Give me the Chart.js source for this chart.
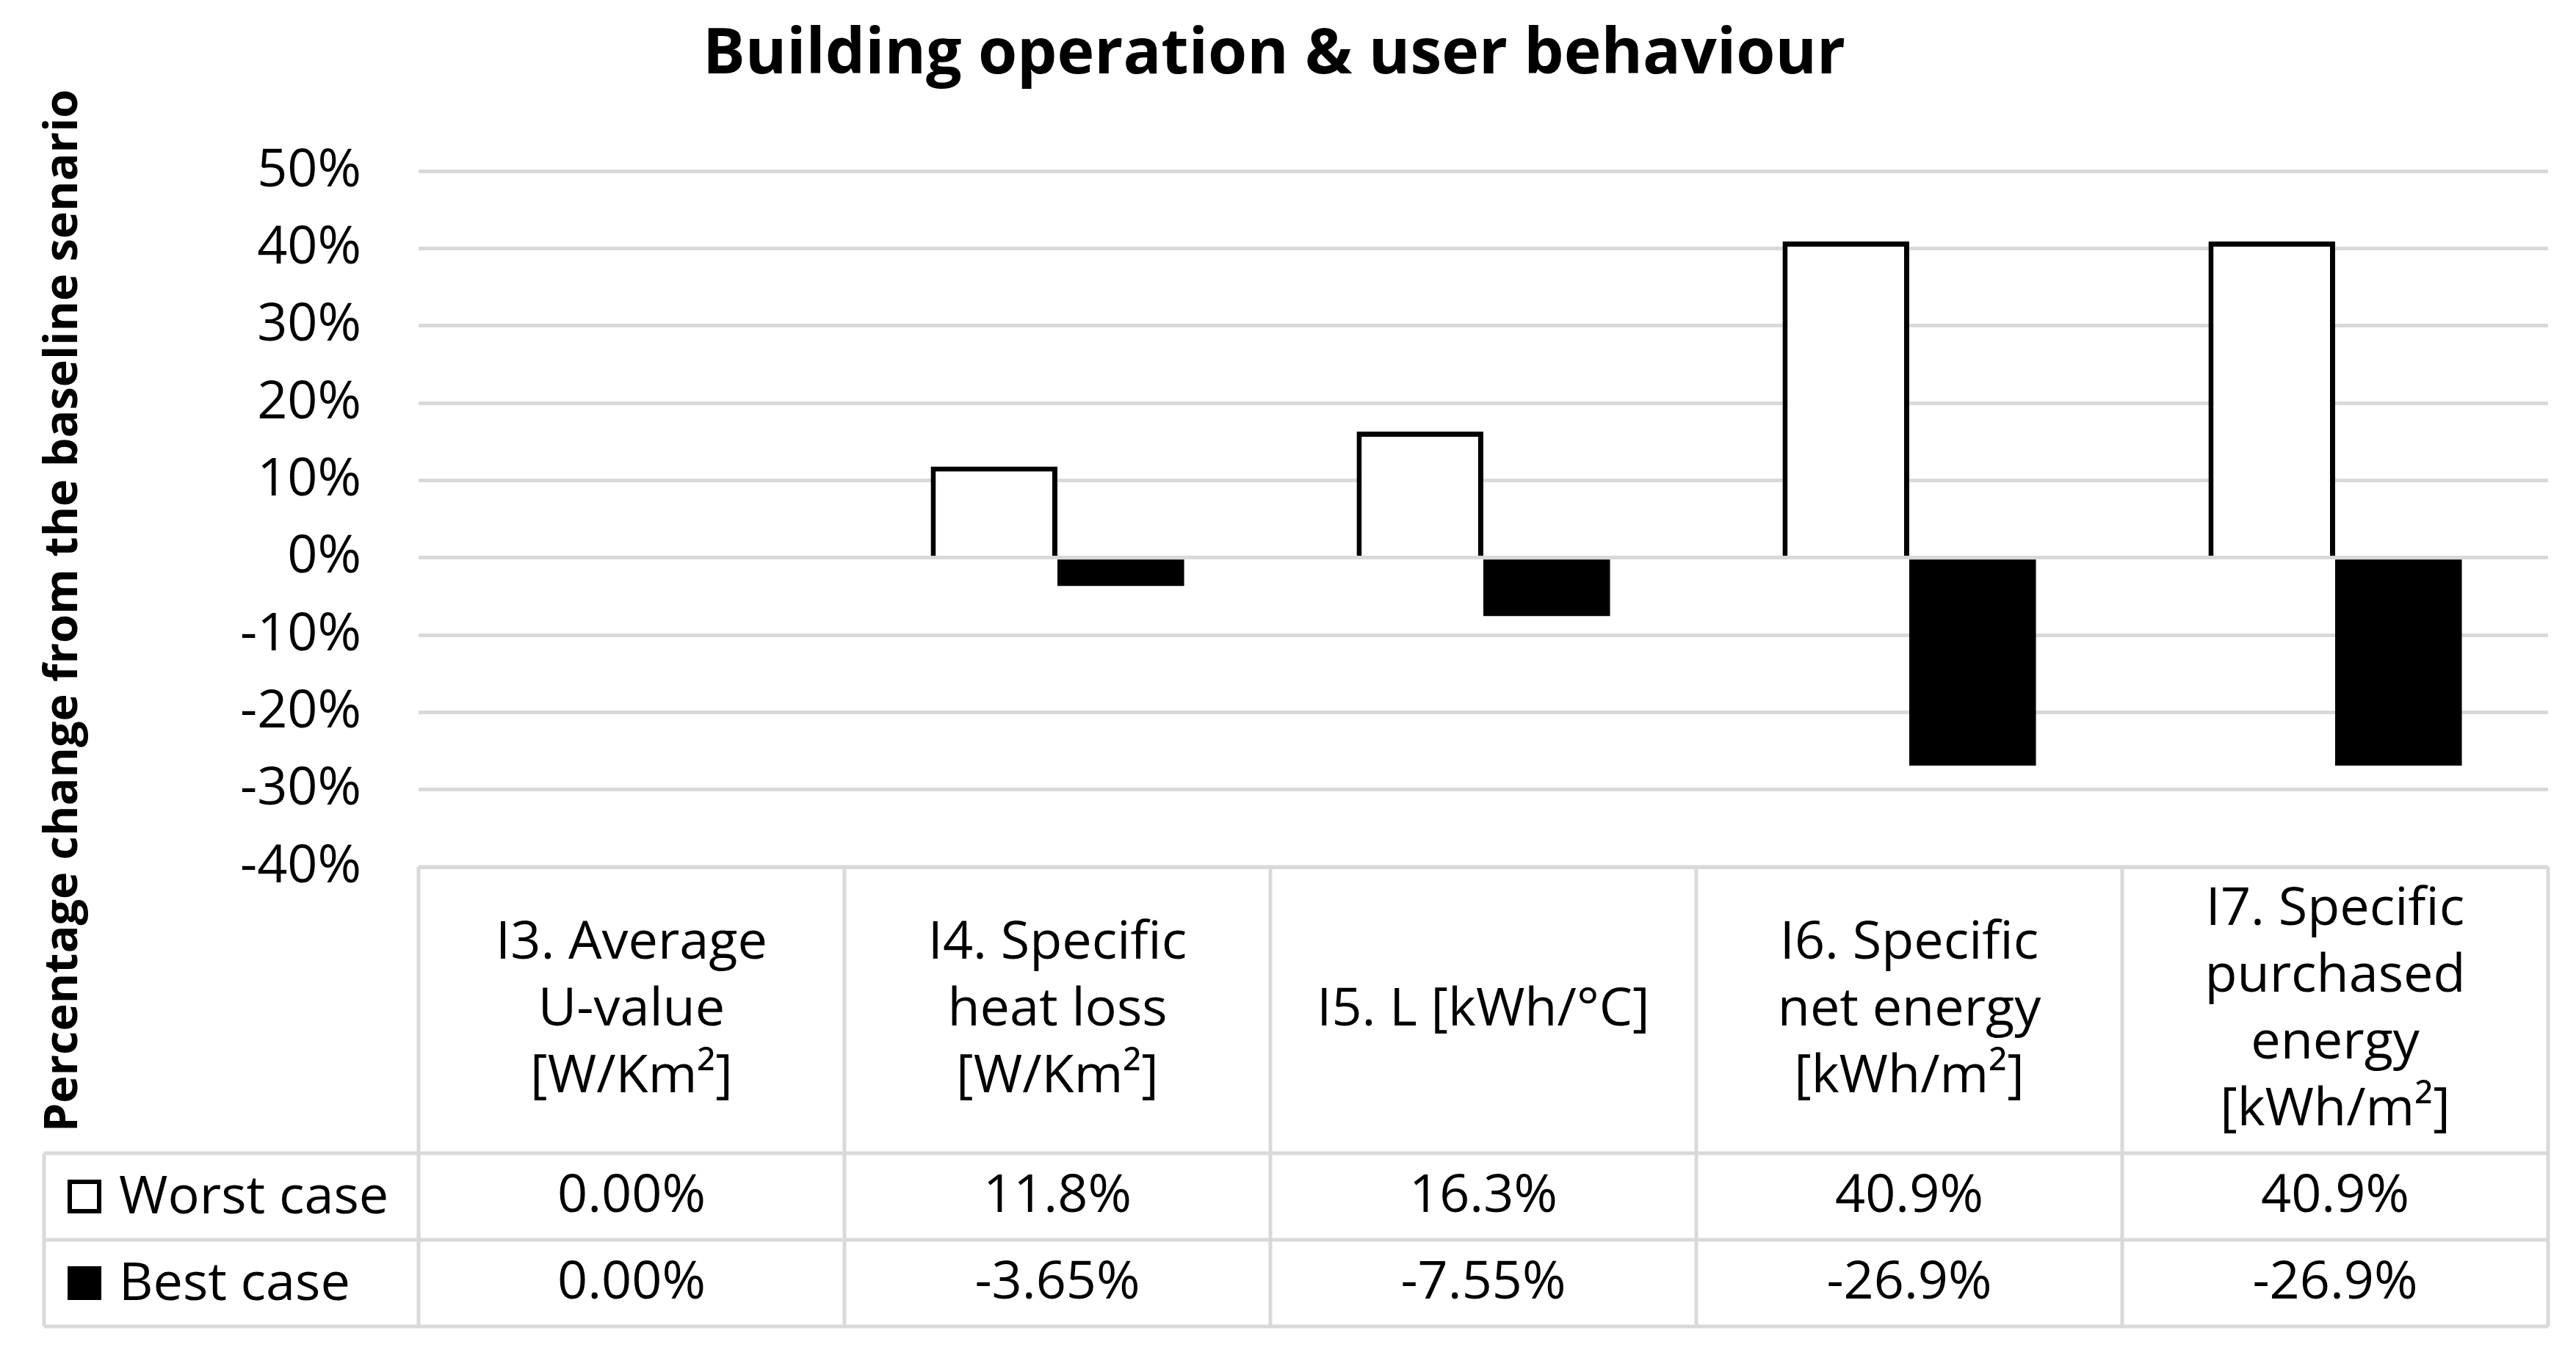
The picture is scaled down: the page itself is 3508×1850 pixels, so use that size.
<!DOCTYPE html>
<html>
<head>
<meta charset="utf-8">
<script src="https://cdn.jsdelivr.net/npm/chart.js@4.4.1/dist/chart.umd.min.js"></script>
<style>
  html, body { margin: 0; padding: 0; background: #fff; }
  .chart-box { position: relative; width: 3508px; height: 1850px; }
</style>
</head>
<body>
<div class="chart-box"><canvas id="chart"></canvas></div>
<script>
const categories = [
  ['I3. Average', 'U-value', '[W/Km²]'],
  ['I4. Specific', 'heat loss', '[W/Km²]'],
  ['I5. L [kWh/°C]'],
  ['I6. Specific', 'net energy', '[kWh/m²]'],
  ['I7. Specific', 'purchased', 'energy', '[kWh/m²]'],
];
const seriesNames = ['Worst case', 'Best case'];
const worstCase = [0, 11.8, 16.3, 40.9, 40.9];
const bestCase = [0, -3.65, -7.55, -26.9, -26.9];
const yTicks = [-40, -30, -20, -10, 0, 10, 20, 30, 40, 50];

const FONT = "'Open Sans', 'Noto Sans', sans-serif";
const GRID = '#d9d9d9';

function pct(v) {
  return v.toPrecision(3) + '%';
}

// data table under the plot, like the excel one
const dataTable = {
  id: 'dataTable',
  afterDraw(chart) {
    const { ctx, chartArea, scales: { x } } = chart;
    const half = (x.getPixelForValue(1) - x.getPixelForValue(0)) / 2;
    const top = chartArea.bottom;
    const headBottom = top + 390;
    const rowH = 118;
    const bottom = headBottom + rowH * 2;
    const tableLeft = 60;

    ctx.save();
    ctx.strokeStyle = GRID;
    ctx.lineWidth = 5;
    ctx.beginPath();
    ctx.moveTo(chartArea.left, top);
    ctx.lineTo(chartArea.right, top);
    [headBottom, headBottom + rowH, bottom].forEach((y) => {
      ctx.moveTo(tableLeft, y);
      ctx.lineTo(chartArea.right, y);
    });
    ctx.moveTo(tableLeft, headBottom);
    ctx.lineTo(tableLeft, bottom);
    ctx.moveTo(chartArea.left, top);
    ctx.lineTo(chartArea.left, bottom);
    categories.forEach((c, i) => {
      const xr = x.getPixelForValue(i) + half;
      ctx.moveTo(xr, top);
      ctx.lineTo(xr, bottom);
    });
    ctx.stroke();

    ctx.fillStyle = '#000';
    ctx.font = `72px ${FONT}`;
    ctx.textAlign = 'center';
    ctx.textBaseline = 'middle';
    const lineH = 91;
    const headMid = (top + headBottom) / 2;
    categories.forEach((lines, i) => {
      const cx = x.getPixelForValue(i);
      lines.forEach((t, j) => {
        ctx.fillText(t, cx, headMid + (j - (lines.length - 1) / 2) * lineH);
      });
    });

    [worstCase, bestCase].forEach((values, r) => {
      const cy = headBottom + rowH * r + rowH / 2;
      ctx.textAlign = 'center';
      values.forEach((v, i) => {
        ctx.fillText(pct(v), x.getPixelForValue(i), cy);
      });
      // legend key
      const ds = chart.data.datasets[r];
      ctx.fillStyle = ds.backgroundColor;
      ctx.fillRect(92, cy - 23, 46, 46);
      if (ds.borderWidth) {
        ctx.strokeStyle = '#000';
        ctx.lineWidth = 6;
        ctx.strokeRect(95, cy - 20, 40, 40);
      }
      ctx.fillStyle = '#000';
      ctx.textAlign = 'left';
      ctx.fillText(seriesNames[r], 162, cy + 2);
    });

    // y axis title
    ctx.save();
    ctx.translate(105, 832);
    ctx.rotate(-Math.PI / 2);
    ctx.font = `bold 63px ${FONT}`;
    ctx.textAlign = 'center';
    ctx.textBaseline = 'alphabetic';
    ctx.fillText('Percentage change from the baseline senario', 0, 0);
    ctx.restore();

    ctx.restore();
  },
};

new Chart(document.getElementById('chart'), {
  type: 'bar',
  data: {
    labels: categories,
    datasets: [
      {
        label: seriesNames[0],
        data: worstCase,
        backgroundColor: '#ffffff',
        borderColor: '#000000',
        borderWidth: 7,
      },
      {
        label: seriesNames[1],
        data: bestCase,
        backgroundColor: '#000000',
        borderWidth: 0,
      },
    ],
  },
  options: {
    responsive: true,
    maintainAspectRatio: false,
    devicePixelRatio: 1,
    animation: false,
    layout: { padding: { left: 0, right: 38, top: 0, bottom: 669 } },
    datasets: {
      bar: { categoryPercentage: 0.595, barPercentage: 1 },
    },
    scales: {
      x: { display: false },
      y: {
        min: yTicks[0],
        max: yTicks[yTicks.length - 1],
        afterBuildTicks: (scale) => {
          scale.ticks = yTicks.map((v) => ({ value: v }));
        },
        afterFit: (scale) => {
          scale.width = 570;
        },
        border: { display: false },
        grid: { color: GRID, lineWidth: 5, drawTicks: false },
        ticks: {
          padding: 78,
          color: '#000',
          font: { family: FONT, size: 72 },
          callback: (v) => v + '%',
        },
      },
    },
    plugins: {
      legend: { display: false },
      tooltip: { enabled: false },
      title: {
        display: true,
        text: 'Building operation & user behaviour',
        color: '#000',
        font: { family: FONT, size: 86, weight: 'bold' },
        padding: { top: 24, bottom: 106 },
      },
    },
  },
  plugins: [dataTable],
});
</script>
</body>
</html>
